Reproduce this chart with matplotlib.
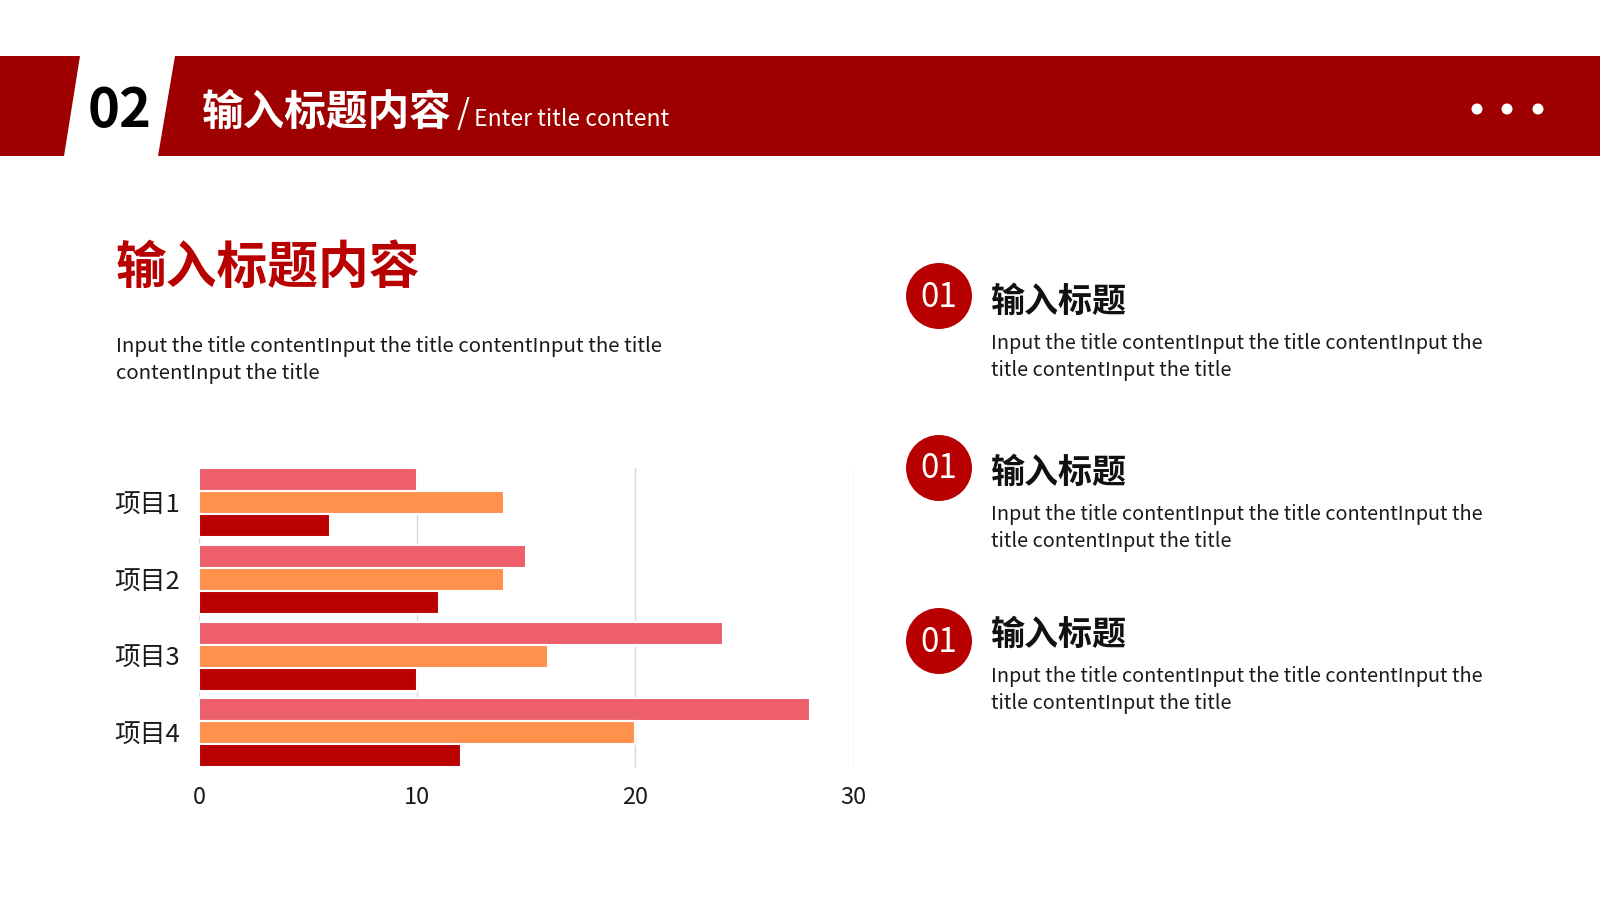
import matplotlib
matplotlib.use("Agg")
import matplotlib.pyplot as plt
from matplotlib.patches import Polygon, Ellipse
import numpy as np

plt.rcParams['font.family'] = ['Noto Sans CJK SC', 'DejaVu Sans']

# ---- data ----
categories = ["项目1", "项目2", "项目3", "项目4"]
series1 = [10, 15, 24, 28]   # pink
series2 = [14, 14, 16, 20]   # orange
series3 = [6, 11, 10, 12]    # dark red
x_ticks = [0, 10, 20, 30]

section_no = "02"
banner_title = "输入标题内容"
banner_sub = "Enter title content"
main_title = "输入标题内容"
body_text = "Input the title contentInput the title contentInput the title\ncontentInput the title"
item_nums = ["01", "01", "01"]
item_titles = ["输入标题", "输入标题", "输入标题"]
item_texts = ["Input the title contentInput the title contentInput the\ntitle contentInput the title"] * 3

W, H = 1600, 900
fig = plt.figure(figsize=(16, 9), dpi=100)
fig.patch.set_facecolor("white")

def fx(x):
    return x / W

def fy(y):
    return 1 - y / H

BANNER = "#9E0000"
RED = "#B90000"

# ---- banner ----
fig.patches.append(Polygon([(fx(0), fy(56)), (fx(80), fy(56)), (fx(64), fy(156)), (fx(0), fy(156))],
                           closed=True, transform=fig.transFigure, facecolor=BANNER, edgecolor="none"))
fig.patches.append(Polygon([(fx(174.5), fy(56)), (fx(1600), fy(56)), (fx(1600), fy(156)), (fx(158), fy(156))],
                           closed=True, transform=fig.transFigure, facecolor=BANNER, edgecolor="none"))
fig.text(fx(120), fy(111), section_no, fontsize=39, fontweight="bold", color="black",
         ha="center", va="center")
fig.text(fx(202), fy(113), banner_title, fontsize=30, fontweight="bold", color="white",
         ha="left", va="center")
fig.text(fx(457), fy(114), "/", fontsize=24, color="white", ha="left", va="center")
fig.text(fx(474), fy(119), banner_sub, fontsize=16.5, color="white", ha="left", va="center")
for cx in [1477, 1507, 1538]:
    fig.patches.append(Ellipse((fx(cx), fy(109)), width=11 / W, height=11 / H, transform=fig.transFigure,
                               facecolor="white", edgecolor="none"))

# ---- left heading & body ----
fig.text(fx(116), fy(268), main_title, fontsize=36.5, fontweight="black", color=RED,
         ha="left", va="center")
fig.text(fx(116), fy(336), body_text, fontsize=14.7, color="#1a1a1a", ha="left", va="top",
         linespacing=1.4)

# ---- chart ----
ax = fig.add_axes([fx(199), fy(767.5), (853.5 - 199) / W, (767.5 - 468) / H])
y = np.arange(len(categories))
h = 0.3
colors = ["#EC5F6B", "#FF914D", "#BA0000"]
for i, (vals, c) in enumerate(zip([series1, series2, series3], colors)):
    ax.barh(y + (i - 1) * h, vals, height=h, color=c, edgecolor="white", linewidth=1.5, zorder=3)
ax.set_xlim(0, 30)
ax.set_ylim(3.45, -0.45)
ax.set_xticks(x_ticks)
ax.set_xticklabels([str(t) for t in x_ticks])
ax.set_yticks(y)
ax.set_yticklabels(categories)
ax.grid(axis="x", color="#D9D9D9", linewidth=1, zorder=0)
ax.grid(axis="y", visible=False)
for s in ax.spines.values():
    s.set_visible(False)
ax.tick_params(axis="both", length=0)
ax.tick_params(axis="x", labelsize=17, pad=13.5, colors="#1a1a1a")
ax.tick_params(axis="y", labelsize=18.5, pad=14, colors="#1a1a1a")
ax.set_facecolor("none")

# ---- right items ----
circle_y = [296, 468, 641]
title_y = [301, 472, 634]
text_y = [333, 504, 666]
for k in range(3):
    fig.patches.append(Ellipse((fx(939), fy(circle_y[k])), width=66 / W, height=66 / H,
                               transform=fig.transFigure, facecolor=RED, edgecolor="none"))
    fig.text(fx(939), fy(circle_y[k] + 1), item_nums[k], fontsize=24, fontweight="light", color="white",
             ha="center", va="center")
    fig.text(fx(991), fy(title_y[k]), item_titles[k], fontsize=24.5, fontweight="bold", color="#111111",
             ha="left", va="center")
    fig.text(fx(991), fy(text_y[k]), item_texts[k], fontsize=14.3, color="#1a1a1a", ha="left", va="top",
             linespacing=1.36)

fig.savefig("out.png", dpi=100, facecolor="white")
